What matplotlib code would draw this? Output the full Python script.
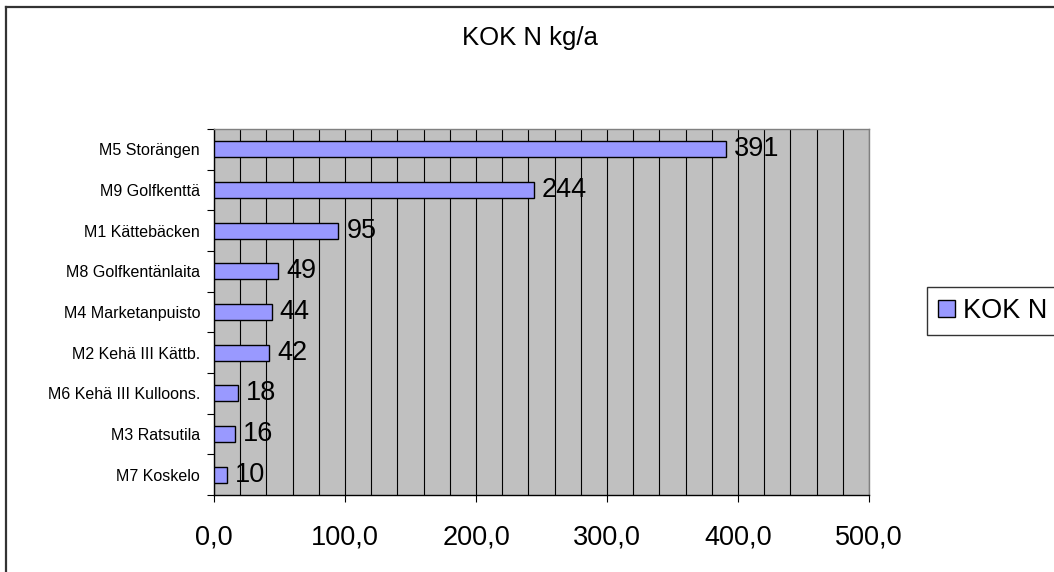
import matplotlib
matplotlib.use("Agg")
import matplotlib.pyplot as plt
from matplotlib.lines import Line2D
from matplotlib.ticker import MultipleLocator, FuncFormatter

plt.rcParams['font.family'] = ['Liberation Sans', 'DejaVu Sans']

categories = ["M5 Storängen", "M9 Golfkenttä", "M1 Kättebäcken", "M8 Golfkentänlaita",
              "M4 Marketanpuisto", "M2 Kehä III Kättb.", "M6 Kehä III Kulloons.",
              "M3 Ratsutila", "M7 Koskelo"]
values = [391, 244, 95, 49, 44, 42, 18, 16, 10]
series_name = "KOK N"
title = "KOK N kg/a"

W, H = 1054, 572
fig = plt.figure(figsize=(W / 100, H / 100), dpi=100)
fig.patch.set_facecolor("white")

left, right, top, bottom = 214, 869, 129, 495
ax = fig.add_axes([left / W, (H - bottom) / H, (right - left) / W, (bottom - top) / H])
ax.set_facecolor("#C0C0C0")

n = len(categories)
ypos = list(range(n))
bars = ax.barh(ypos, values, height=0.39, color="#9999FF", edgecolor="black",
               linewidth=1.0, label=series_name, zorder=3)
ax.set_ylim(n - 0.5, -0.5)
ax.set_xlim(0, 500)

# category boundary ticks
ax.set_yticks([i - 0.5 for i in range(n + 1)])
ax.set_yticklabels([])
ax.set_yticks(ypos, minor=True)
ax.set_yticklabels(categories, minor=True, fontsize=11.5)
ax.tick_params(axis='y', which='major', direction='out', length=5, width=0.8, color='black')
ax.tick_params(axis='y', which='minor', length=0, pad=10)

ax.xaxis.set_major_locator(MultipleLocator(100))
ax.xaxis.set_minor_locator(MultipleLocator(20))
ax.xaxis.set_major_formatter(FuncFormatter(lambda v, p: f"{v:.1f}".replace(".", ",")))
ax.tick_params(axis='x', which='major', direction='out', length=5, width=0.8,
               labelsize=19.5, pad=16)
ax.tick_params(axis='x', which='minor', length=0)
ax.grid(True, axis='x', which='both', color='black', linewidth=0.8, zorder=1)
ax.set_axisbelow(True)

for s in ['left', 'bottom']:
    ax.spines[s].set_color('black')
    ax.spines[s].set_linewidth(1.0)
for s in ['top', 'right']:
    ax.spines[s].set_color('#808080')
    ax.spines[s].set_linewidth(1.0)

for b, v in zip(bars, values):
    ax.text(b.get_width() + 6, b.get_y() + b.get_height() / 2, f"{v}",
            va='center', ha='left', fontsize=19.5, zorder=4)

fig.text(530 / W, 1 - 38 / H, title, ha='center', va='center', fontsize=18.5)

leg = fig.legend(loc='center left', bbox_to_anchor=(927 / W, 1 - 311 / H),
                 frameon=True, fancybox=False, edgecolor='black', fontsize=19.5,
                 handlelength=0.63, handleheight=0.63, handletextpad=0.3,
                 borderpad=0.4, borderaxespad=0)
leg.get_frame().set_linewidth(1.0)

# outer chart border (top and left only visible)
fig.add_artist(Line2D([6 / W, 1.0], [1 - 7 / H, 1 - 7 / H], transform=fig.transFigure,
                      color='#333333', linewidth=1.6))
fig.add_artist(Line2D([6 / W, 6 / W], [1 - 7 / H, 0], transform=fig.transFigure,
                      color='#333333', linewidth=1.6))

fig.savefig("out.png", dpi=100)
